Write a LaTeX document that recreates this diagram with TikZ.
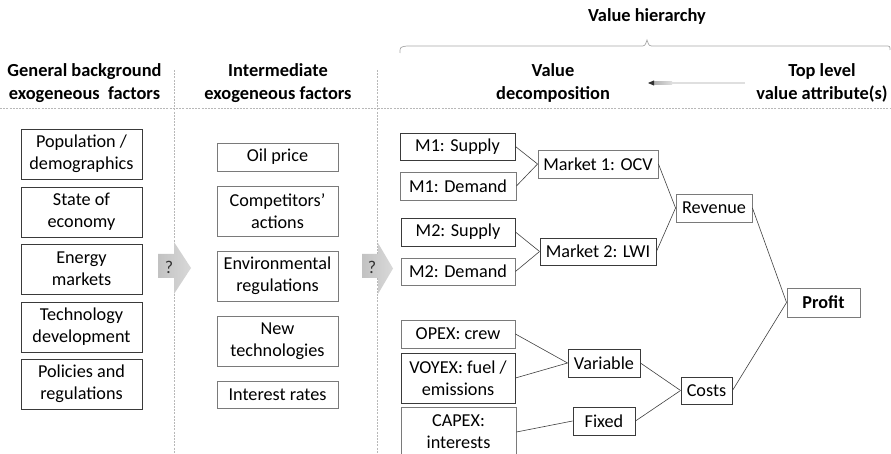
\documentclass[tikz,border=0pt]{standalone}
\usepackage{fontspec}
\setmainfont{Carlito}
\usetikzlibrary{arrows.meta}
\definecolor{boxdark}{HTML}{3A3A3A}
\definecolor{boxlight}{HTML}{7A7A7A}
\definecolor{linkcol}{HTML}{404040}
\definecolor{guide}{HTML}{B8B8B8}
\tikzset{
  hdr/.style={font=\fontsize{18.4}{23}\selectfont\bfseries, align=center, inner sep=0pt},
  fbox/.style={draw=#1, line width=0.9pt, fill=white, align=center, inner sep=0pt,
               font=\fontsize{18.2}{21.8}\selectfont, text=black},
  fbox/.default=boxdark,
  link/.style={draw=linkcol, line width=0.6pt},
  guideline/.style={draw=guide, line width=0.7pt, dash pattern=on 2pt off 1.2pt},
  qmark/.style={font=\fontsize{18}{20}\selectfont, text=black!80, inner sep=0pt},
  chevron/.style={left color=gray!48, right color=gray!30, draw=none}
}
\begin{document}
\begin{tikzpicture}[x=1pt, y=-1pt]
\useasboundingbox (0,0) rectangle (891,454);

% column separators
\draw[guideline] (0,108) -- (891,108);
\draw[guideline] (174,70) -- (174,454);
\draw[guideline] (377,70) -- (377,454);

% brace over the value hierarchy
\draw[draw=gray!70, line width=0.7pt]
  (400,53) .. controls (400,47) .. (407,46) -- (640,46)
  .. controls (645,46) .. (647,40) .. controls (649,46) .. (654,46)
  -- (885,46) .. controls (890,46) .. (890,50);
\node[hdr] (vh) at (647,16) {Value hierarchy};

% headers
\node[hdr] (h1) at (84.5,83.5) {General background\\exogeneous\ \ factors};
\node[hdr] (h2) at (278,83.5) {Intermediate\\exogeneous factors};
\node[hdr] (h3) at (553,82.5) {Value\\decomposition};
\node[hdr] (h4) at (822,82.5) {Top level\\value attribute(s)};

% direction arrow between the two value headers (fading towards the tail)
\coordinate (arrS) at (745,83);
\coordinate (arrE) at (648,83);
\shade[left color=gray!65, right color=gray!25] (652,82) rectangle (672,84.4);
\fill[gray!25] (672,82) rectangle (745,84.4);
\fill[black!80] (arrE) -- ++(6,-2.6) -- ++(0,5.2) -- cycle;

% general background factors
\node[fbox, minimum width=121pt, minimum height=50pt] (g1) at (81.5,154) {Population /\\demographics};
\node[fbox, minimum width=121pt, minimum height=50pt] (g2) at (81.5,212) {State of\\economy};
\node[fbox, minimum width=121pt, minimum height=50pt] (g3) at (81.5,269) {Energy\\markets};
\node[fbox, minimum width=121pt, minimum height=50pt] (g4) at (81.5,327) {Technology\\development};
\node[fbox, minimum width=121pt, minimum height=50pt] (g5) at (81.5,384) {Policies and\\regulations};

% intermediate factors
\node[fbox=boxlight, minimum width=121pt, minimum height=28pt] (i1) at (277.5,157) {Oil price};
\node[fbox=boxlight, minimum width=121pt, minimum height=50pt] (i2) at (277.5,211) {Competitors’\\actions};
\node[fbox=boxlight, minimum width=121pt, minimum height=50pt] (i3) at (277.5,276) {Environmental\\regulations};
\node[fbox=boxlight, minimum width=121pt, minimum height=50pt] (i4) at (277.5,341) {New\\technologies};
\node[fbox=boxlight, minimum width=121pt, minimum height=27pt] (i5) at (277.5,394.5) {Interest rates};

% block arrows with question marks
\path[chevron] (158,254) -- (174,254) -- (174,242) -- (191,268) -- (174,294) -- (174,278) -- (158,278) -- cycle;
\node[qmark] (q1) at (169,267) {?};
\path[chevron] (362,254) -- (378,254) -- (378,243) -- (393,268.5) -- (378,294) -- (378,278) -- (362,278) -- cycle;
\node[qmark] (q2) at (372,267) {?};

% value decomposition tree
\node[fbox, minimum width=115pt, minimum height=27pt] (m1s) at (457.5,146.5) {M1: Supply};
\node[fbox=boxlight, minimum width=116pt, minimum height=28pt] (m1d) at (458,186) {M1: Demand};
\node[fbox=boxlight, minimum width=120pt, minimum height=28pt] (mk1) at (598,164) {Market 1: OCV};
\node[fbox=boxlight, minimum width=76pt, minimum height=28pt] (rev) at (714,208) {Revenue};

\node[fbox, minimum width=114pt, minimum height=28pt] (m2s) at (458,232) {M2: Supply};
\node[fbox=boxlight, minimum width=114pt, minimum height=27pt] (m2d) at (458,271.5) {M2: Demand};
\node[fbox, minimum width=116pt, minimum height=27pt] (mk2) at (598,251.5) {Market 2: LWI};

\node[fbox=boxlight, minimum width=73pt, minimum height=29pt, font=\fontsize{18.2}{21.8}\selectfont\bfseries] (profit) at (823.5,302.5) {Profit};

\node[fbox=boxlight, minimum width=114pt, minimum height=28pt] (opex) at (458,334) {OPEX: crew};
\node[fbox, minimum width=114pt, minimum height=50pt] (voyex) at (458,378) {VOYEX: fuel /\\emissions};
\node[fbox=boxlight, minimum width=115pt, minimum height=50pt] (capex) at (458.5,432) {CAPEX:\\interests};

\node[fbox, minimum width=72pt, minimum height=28pt] (var) at (604,363) {Variable};
\node[fbox, minimum width=62pt, minimum height=28pt] (fix) at (604,421) {Fixed};
\node[fbox, minimum width=51pt, minimum height=27pt] (costs) at (706.5,390.5) {Costs};

% connectors
\draw[link] (m1s.east) -- (mk1.west);
\draw[link] (m1d.east) -- (mk1.west);
\draw[link] (m2s.east) -- (mk2.west);
\draw[link] (m2d.east) -- (mk2.west);
\draw[link] (mk1.east) -- (rev.west);
\draw[link] (mk2.east) -- (rev.west);
\draw[link] (rev.east) -- (profit.west);
\draw[link] (opex.east) -- (var.west);
\draw[link] (voyex.east) -- (var.west);
\draw[link] (capex.east) -- (fix.west);
\draw[link] (var.east) -- (costs.west);
\draw[link] (fix.east) -- (costs.west);
\draw[link] (costs.east) -- (profit.west);
\end{tikzpicture}
\end{document}
